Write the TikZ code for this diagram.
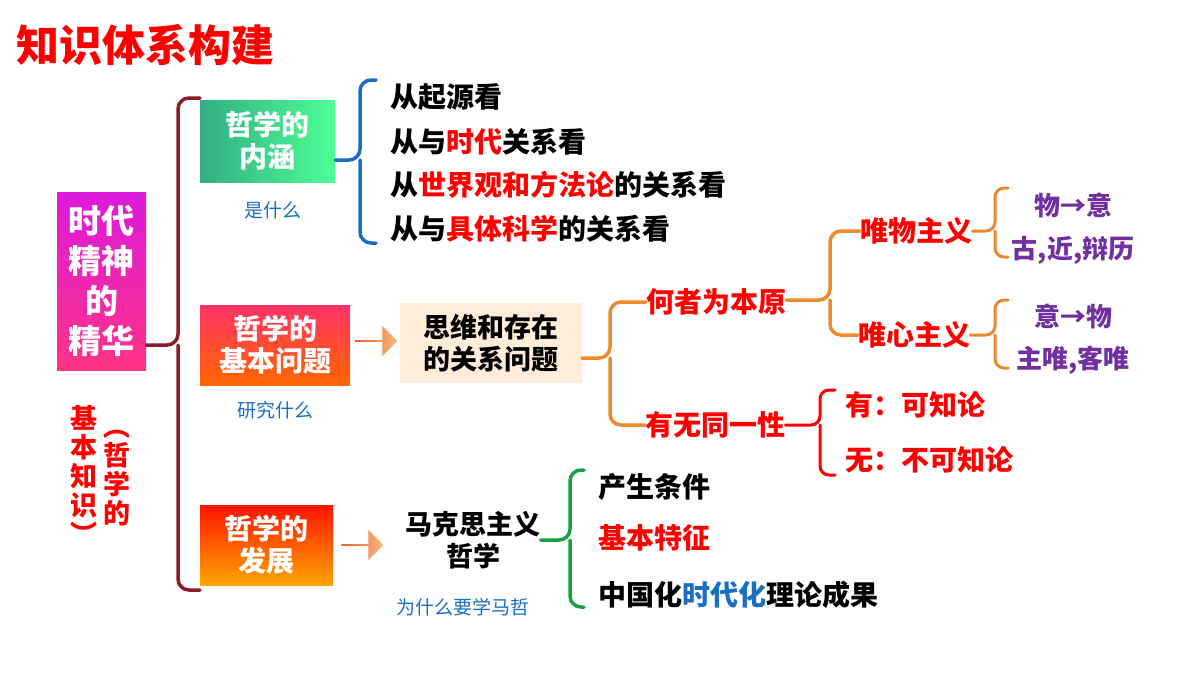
\documentclass[tikz,border=0pt]{standalone}
\usepackage{fontspec}
\setmainfont{Noto Sans CJK SC}
\usetikzlibrary{shapes.arrows}
\definecolor{bred}{HTML}{FF0000}
\definecolor{dred}{HTML}{8B1A2A}
\definecolor{bblue}{HTML}{1A6FC4}
\definecolor{orng}{HTML}{EE8A2E}
\definecolor{purp}{HTML}{7030A0}
\definecolor{grn}{HTML}{1AA040}
\begin{document}
\begin{tikzpicture}[x=1pt,y=-1pt,
  t/.style={font=\bfseries\fontsize{28}{30}\selectfont,anchor=west,inner sep=0},
  rt/.style={t,text=bred},
  pt/.style={font=\bfseries\fontsize{26}{30}\selectfont,text=purp,inner sep=0},
  sm/.style={font=\fontsize{19}{20}\selectfont,text=bblue,inner sep=0},
  box/.style={minimum width=#1,align=center,text=white,font=\bfseries\fontsize{28}{32}\selectfont,inner sep=0},
  br/.style={line width=3.5pt,rounded corners=11,line cap=round},
  fat/.style={single arrow,minimum height=42,minimum width=30,single arrow head extend=3,inner sep=0,left color=orng!70!red,right color=orng!60,draw=none}]
\useasboundingbox (0,0) rectangle (1200,675);
\fill[white] (0,0) rectangle (1200,675);
\node[anchor=west,text=bred,font=\bfseries\fontsize{43}{46}\selectfont,inner sep=0] (title) at (16,45) {知识体系构建};
% left box
\node[box,minimum width=89,minimum height=178,top color=magenta!70!violet!90,bottom color=red!60!magenta!80,font=\bfseries\fontsize{33}{40}\selectfont] (root) at (101.5,281) {时代\\精神\\的\\精华};
\node[inner sep=0,text=bred,font=\bfseries\fontsize{27}{29}\selectfont,align=center] (n1) at (117,478) {︵\\哲\\学\\的};
\node[inner sep=0,text=bred,font=\bfseries\fontsize{27}{29}\selectfont,align=center] (n2) at (84,475) {基\\本\\知\\识\\︶};
% boxes
\node[box,minimum width=135,minimum height=82,left color=teal!80!green!80,right color=green!60!cyan!70] (b1) at (267.5,141) {哲学的\\内涵};
\node[sm] (s1) at (273,210) {是什么};
\node[box,minimum width=150,minimum height=80,top color=red!75!magenta!80,bottom color=orange!80!red] (b2) at (275,345) {哲学的\\基本问题};
\node[sm] (s2) at (275,410) {研究什么};
\node[box,minimum width=133,minimum height=80,top color=red!85!orange,bottom color=orange!70!yellow] (b3) at (266.5,545) {哲学的\\发展};
\node[sm] (s3) at (463,607) {为什么要学马哲};
% big brace
\coordinate (bt) at (200,98); \coordinate (bb) at (200,590);
\draw[br,dred] (bt) -- (178,98) -- (178,345) -- (root.east|-0,345);
\draw[br,dred] (bb) -- (178,590) -- (178,345);
% blue brace
\node[t] (a1) at (390,97) {从起源看};
\node[t] (a2) at (390,142) {从与\textcolor{bred}{时代}关系看};
\node[t] (a3) at (390,185) {从\textcolor{bred}{世界观和方法论}的关系看};
\node[t] (a4) at (390,229) {从与\textcolor{bred}{具体科学}的关系看};
\draw[br,bblue] (376,80) -- (360,80) -- (360,160) -- (b1.east|-0,160);
\draw[br,bblue] (376,243) -- (360,243) -- (360,160);
% arrows
\node[fat] (ar1) at (376,341) {};
\node[fat] (ar2) at (362,545) {};
\node[minimum width=182,minimum height=80,fill=orange!15,inner sep=0,align=center,font=\bfseries\fontsize{27}{32}\selectfont] (q) at (491,343) {思维和存在\\的关系问题};
\node[inner sep=0,align=center,font=\bfseries\fontsize{27}{32}\selectfont] (m) at (473,540) {马克思主义\\哲学};
% orange brace level 1
\node[rt] (h1) at (646,302) {何者为本原};
\node[rt] (h2) at (645,425) {有无同一性};
\draw[br,orng] (h1.west) -- (610,302) -- (610,358) -- (q.east|-0,358);
\draw[br,orng] (h2.west) -- (610,425) -- (610,358);
% materialism
\node[rt] (w1) at (860,231) {唯物主义};
\node[rt] (w2) at (858,335) {唯心主义};
\draw[br,orng] (w1.west) -- (830,231) -- (830,300) -- (h1.east|-0,300);
\draw[br,orng] (w2.west) -- (830,335) -- (830,300);
\node[pt] (p1) at (1073,205) {物→意};
\node[pt] (p2) at (1073,250) {古,近,辩历};
\node[pt] (p3) at (1073,316) {意→物};
\node[pt] (p4) at (1073,360) {主唯,客唯};
\coordinate (c1) at (1008,188); \coordinate (c2) at (1008,257);
\draw[br,orng,line width=3pt,rounded corners=9] (c1) -- (995,188) -- (995,231) -- (w1.east|-0,231);
\draw[br,orng,line width=3pt,rounded corners=9] (c2) -- (995,257) -- (995,231);
\coordinate (c3) at (1008,300); \coordinate (c4) at (1008,368);
\draw[br,orng,line width=3pt,rounded corners=9] (c3) -- (995,300) -- (995,335) -- (w2.east|-0,335);
\draw[br,orng,line width=3pt,rounded corners=9] (c4) -- (995,368) -- (995,335);
% knowable
\node[rt] (k1) at (845,405) {有：可知论};
\node[rt] (k2) at (845,460) {无：不可知论};
\coordinate (d1) at (835,390); \coordinate (d2) at (835,475);
\draw[br,bred,line width=3pt,rounded corners=9] (d1) -- (820,390) -- (820,425) -- (h2.east|-0,425);
\draw[br,bred,line width=3pt,rounded corners=9] (d2) -- (820,475) -- (820,425);
% green brace
\node[t] (g1) at (598,487) {产生条件};
\node[rt] (g2) at (598,538) {基本特征};
\node[t] (g3) at (598,595) {中国化\textcolor{bblue}{时代化}理论成果};
\coordinate (e1) at (584,470); \coordinate (e2) at (584,607);
\draw[br,grn] (e1) -- (570,470) -- (570,540) -- (m.east|-0,540);
\draw[br,grn] (e2) -- (570,607) -- (570,540);
\end{tikzpicture}
\end{document}
